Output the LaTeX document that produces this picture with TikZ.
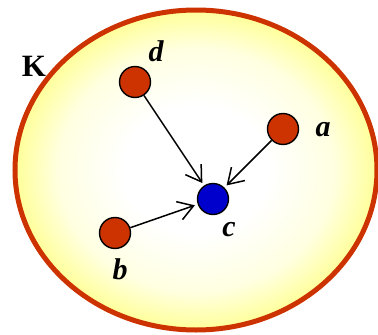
\documentclass[tikz,border=0pt]{standalone}
\usepackage{fontspec}
\setmainfont{Liberation Serif}
\usetikzlibrary{arrows.meta}
\definecolor{rimred}{RGB}{204,51,0}
\definecolor{dotblue}{RGB}{0,0,204}
\definecolor{rimfill}{RGB}{255,255,153}
\definecolor{rimmid}{RGB}{255,255,225}
\pgfdeclareradialshading{rimshade}{\pgfpoint{0bp}{0bp}}{color(0bp)=(white); color(10bp)=(white); color(19bp)=(rimmid); color(25bp)=(rimfill); color(50bp)=(rimfill)}
\tikzset{
  dot/.style={circle, draw=black, line width=1.4pt, minimum size=31pt, inner sep=0pt},
  lbl/.style={inner sep=0pt, font=\fontsize{30}{30}\selectfont\bfseries\itshape},
  link/.style={line width=1.5pt, -{Straight Barb[length=15pt, width=19pt, line width=1.5pt]}, shorten >=3pt}
}
\begin{document}
\begin{tikzpicture}[x=1pt, y=-1pt]
        \useasboundingbox (0,0) rectangle (378,335);
        \shade[shading=rimshade] (196,170) ellipse [x radius=181, y radius=160];
        \draw[rimred, line width=5pt] (196,170) ellipse [x radius=181, y radius=160];
        \node[inner sep=0pt, font=\fontsize{31}{31}\selectfont\bfseries] (K) at (34,66) {K};
        % sources and sink
        \node[dot, fill=rimred] (d) at (135,82) {};
        \node[dot, fill=rimred] (a) at (283,129) {};
        \node[dot, fill=rimred] (b) at (115,233) {};
        \node[dot, fill=dotblue] (c) at (213,199) {};
        \foreach \n/\x/\y in {d/156/51, a/323/130, c/229/230, b/120/269}{
            \node[lbl] (\n-lbl) at (\x,\y) {\n};}
        \foreach \n in {d,a,b}{
            \draw[link] (\n) -- (c);}
\end{tikzpicture}
\end{document}
